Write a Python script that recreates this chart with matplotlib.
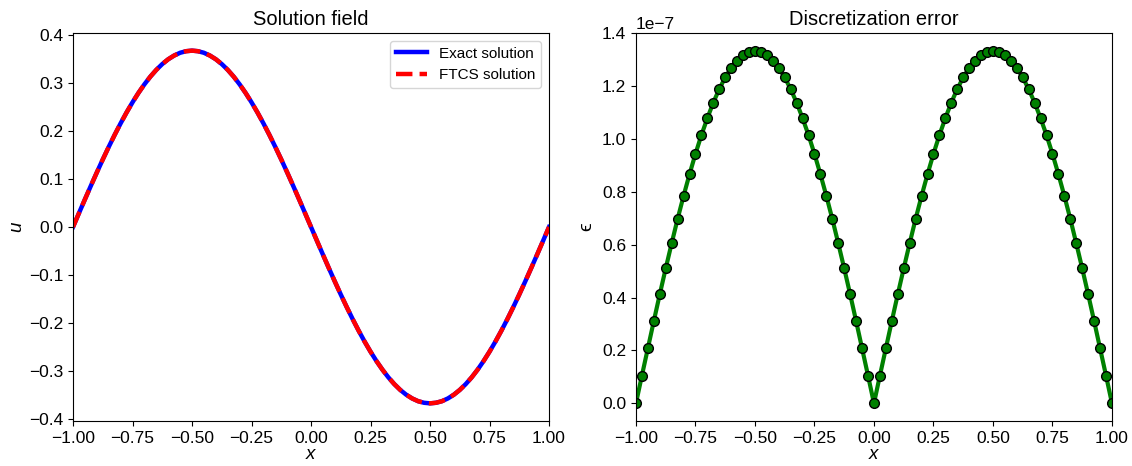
import matplotlib
matplotlib.use('Agg')
import matplotlib.pyplot as plt

plt.rcParams['font.family'] = ['Liberation Sans', 'DejaVu Sans']
plt.rcParams['mathtext.fontset'] = 'custom'
plt.rcParams['mathtext.rm'] = 'Liberation Sans'
plt.rcParams['mathtext.it'] = 'Liberation Sans:italic'
plt.rcParams['mathtext.bf'] = 'Liberation Sans:bold'

# grid points (spacing 0.025)
x = [-1.0, -0.975, -0.95, -0.925, -0.9, -0.875, -0.85, -0.825, -0.8, -0.775,
     -0.75, -0.725, -0.7, -0.675, -0.65, -0.625, -0.6, -0.575, -0.55, -0.525,
     -0.5, -0.475, -0.45, -0.425, -0.4, -0.375, -0.35, -0.325, -0.3, -0.275,
     -0.25, -0.225, -0.2, -0.175, -0.15, -0.125, -0.1, -0.075, -0.05, -0.025,
     0.0, 0.025, 0.05, 0.075, 0.1, 0.125, 0.15, 0.175, 0.2, 0.225,
     0.25, 0.275, 0.3, 0.325, 0.35, 0.375, 0.4, 0.425, 0.45, 0.475,
     0.5, 0.525, 0.55, 0.575, 0.6, 0.625, 0.65, 0.675, 0.7, 0.725,
     0.75, 0.775, 0.8, 0.825, 0.85, 0.875, 0.9, 0.925, 0.95, 0.975, 1.0]

# solution values
u_exact = [0.0, 0.0289, 0.0576, 0.0859, 0.1137, 0.1408, 0.1670, 0.1922, 0.2162, 0.2389,
           0.2601, 0.2797, 0.2976, 0.3137, 0.3278, 0.3399, 0.3499, 0.3577, 0.3634, 0.3667,
           0.3679, 0.3667, 0.3634, 0.3577, 0.3499, 0.3399, 0.3278, 0.3137, 0.2976, 0.2797,
           0.2601, 0.2389, 0.2162, 0.1922, 0.1670, 0.1408, 0.1137, 0.0859, 0.0576, 0.0289,
           0.0, -0.0289, -0.0576, -0.0859, -0.1137, -0.1408, -0.1670, -0.1922, -0.2162, -0.2389,
           -0.2601, -0.2797, -0.2976, -0.3137, -0.3278, -0.3399, -0.3499, -0.3577, -0.3634, -0.3667,
           -0.3679, -0.3667, -0.3634, -0.3577, -0.3499, -0.3399, -0.3278, -0.3137, -0.2976, -0.2797,
           -0.2601, -0.2389, -0.2162, -0.1922, -0.1670, -0.1408, -0.1137, -0.0859, -0.0576, -0.0289, 0.0]
u_ftcs = list(u_exact)  # indistinguishable at this scale

# discretization error (units of 1e-7)
err = [0.0, 0.105, 0.208, 0.311, 0.412, 0.510, 0.605, 0.697, 0.784, 0.866,
       0.943, 1.014, 1.078, 1.137, 1.188, 1.232, 1.268, 1.296, 1.317, 1.329,
       1.333, 1.329, 1.317, 1.296, 1.268, 1.232, 1.188, 1.137, 1.078, 1.014,
       0.943, 0.866, 0.784, 0.697, 0.605, 0.510, 0.412, 0.311, 0.208, 0.105,
       0.0, 0.105, 0.208, 0.311, 0.412, 0.510, 0.605, 0.697, 0.784, 0.866,
       0.943, 1.014, 1.078, 1.137, 1.188, 1.232, 1.268, 1.296, 1.317, 1.329,
       1.333, 1.329, 1.317, 1.296, 1.268, 1.232, 1.188, 1.137, 1.078, 1.014,
       0.943, 0.866, 0.784, 0.697, 0.605, 0.510, 0.412, 0.311, 0.208, 0.105, 0.0]
err = [e * 1e-7 for e in err]

fig = plt.figure(figsize=(11.32, 4.66), dpi=100)
ax1 = fig.add_axes([0.0645, 0.0966, 0.4205, 0.8326])
ax2 = fig.add_axes([0.5618, 0.0966, 0.4205, 0.8326])

ax1.plot(x, u_exact, color='blue', lw=3.2, label='Exact solution')
ax1.plot(x, u_ftcs, color='red', lw=3.2, ls='--', label='FTCS solution')
ax1.set_xlim(-1, 1)
ax1.set_title('Solution field', fontsize=14.5)
ax1.set_xlabel('$x$', fontsize=13.5, labelpad=0)
ax1.set_ylabel('$u$', fontsize=13.5, labelpad=2)
ax1.legend(fontsize=11, loc='upper right')

ax2.plot(x, err, color='green', lw=3, marker='o', markersize=7,
         markerfacecolor='green', markeredgecolor='black', markeredgewidth=1)
ax2.set_xlim(-1, 1)
ax2.set_ylim(-0.0667e-7, 1.4e-7)
ax2.set_title('Discretization error', fontsize=14.5)
ax2.set_xlabel('$x$', fontsize=13.5, labelpad=0)
ax2.set_ylabel('\u03f5', fontsize=14, labelpad=5)

for ax in (ax1, ax2):
    ax.tick_params(labelsize=12.5)
    ax.set_xticks([-1.0, -0.75, -0.5, -0.25, 0.0, 0.25, 0.5, 0.75, 1.0])
ax2.yaxis.get_offset_text().set_fontsize(12.5)

fig.savefig('out.png', dpi=100)
